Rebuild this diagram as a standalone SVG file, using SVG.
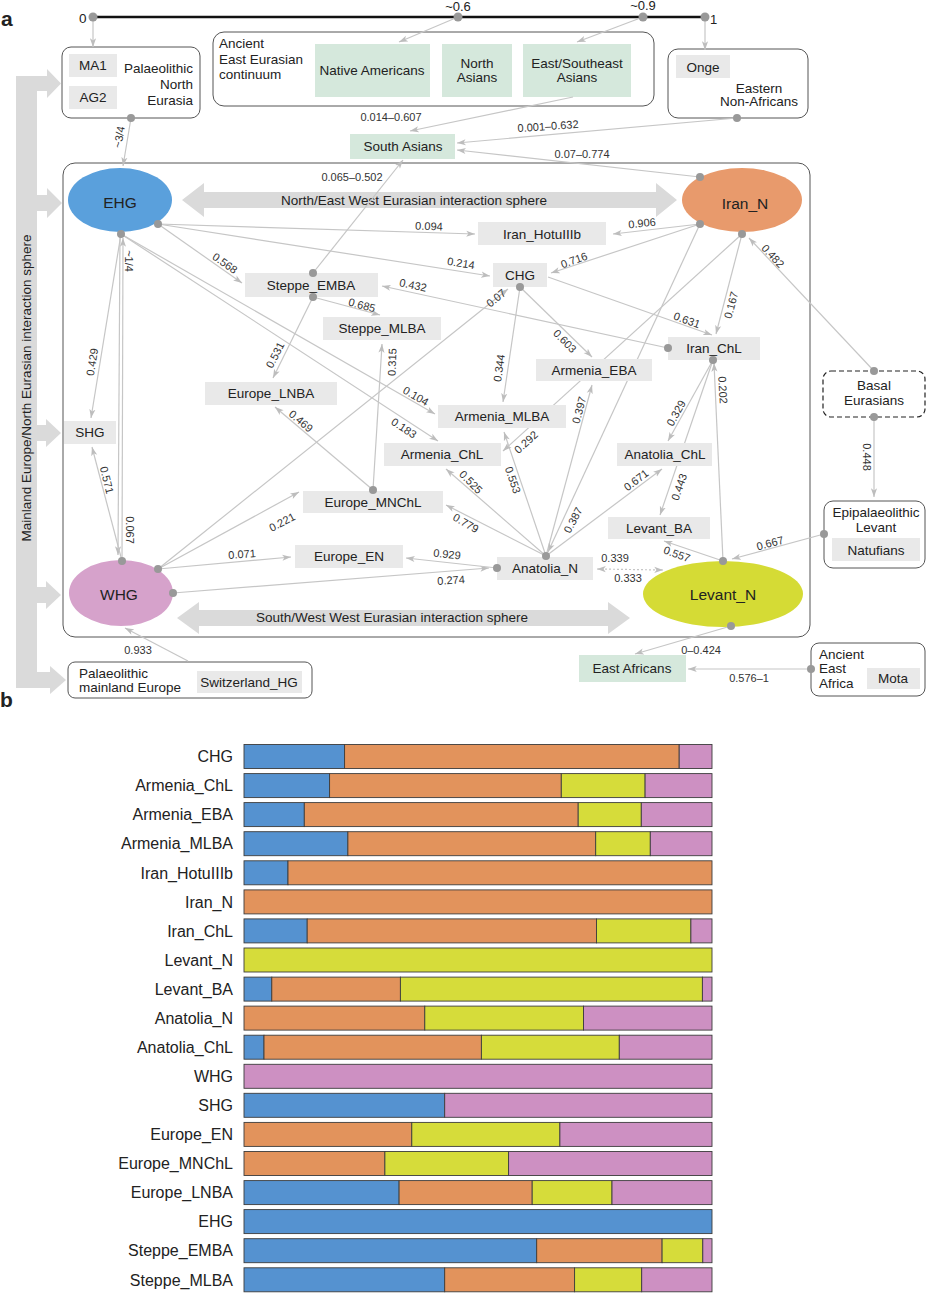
<svg xmlns="http://www.w3.org/2000/svg" width="926" height="1293" viewBox="0 0 926 1293">
<defs>
<marker id="ah" viewBox="0 0 10 8" refX="10" refY="4" markerWidth="9" markerHeight="7" orient="auto-start-reverse" markerUnits="userSpaceOnUse"><path d="M0,0.5 L10,4 L0,7.5 L2.5,4z" fill="#bdbdbd"/></marker>
</defs>
<style>
text{font-family:"Liberation Sans",Arial,sans-serif;fill:#222}
.n{font-size:13.5px;text-anchor:middle}
.s{font-size:13.5px}
.t{font-size:15.5px;text-anchor:middle}
.l{font-size:11px;text-anchor:middle;fill:#333}
.g{fill:#e9e9e9}
.gr{fill:#d5e8dc}
.box{fill:#fff;stroke:#555;stroke-width:1}
.e{stroke:#c6c6c6;stroke-width:1.2;fill:none;marker-end:url(#ah)}
.d{fill:#999}
.ia{fill:#dadada}
.bl{font-size:16px;text-anchor:end}
.cb{fill:#5592d0;stroke:#3c3c3c;stroke-width:0.9}
.co{fill:#e2935c;stroke:#3c3c3c;stroke-width:0.9}
.cy{fill:#d6dc3a;stroke:#3c3c3c;stroke-width:0.9}
.cp{fill:#cd90c2;stroke:#3c3c3c;stroke-width:0.9}
</style>
<rect width="926" height="1293" fill="#fff"/>
<text x="1" y="26" style="font-size:21px;font-weight:bold">a</text>
<text x="0" y="707" style="font-size:21px;font-weight:bold">b</text>

<!-- scale -->
<g id="scale">
<line x1="93" y1="17" x2="705" y2="17" stroke="#111" stroke-width="2.5"/>
<text x="79" y="23" class="s">0</text>
<text x="458" y="11" class="n" style="font-size:13px">~0.6</text>
<text x="643" y="10" class="n" style="font-size:13px">~0.9</text>
<text x="710" y="24" class="s" style="font-size:13px">1</text>
</g>

<!-- big interaction arrows -->
<g id="interaction">
<path class="ia" d="M16,76 H47 V69 L61,83.5 L47,98 V91 H37 V195 H47 V188 L62,203 L47,218 V211 H37 V425 H46 V419 L61,433 L46,447 V441 H37 V587 H46 V581 L61,595 L46,609 V603 H37 V672 H50 V666 L66,680 L50,694 V688 H16 Z"/>
<text class="n" transform="translate(31,388) rotate(-90)">Mainland Europe/North Eurasian interaction sphere</text>
</g>

<!-- groups -->
<g id="group-PNE">
<rect class="box" x="62" y="47" width="138" height="71" rx="9"/>
<rect class="g" x="69" y="54" width="48" height="23"/><text class="n" x="93" y="70">MA1</text>
<rect class="g" x="69" y="86" width="48" height="23"/><text class="n" x="93" y="102">AG2</text>
<text class="s" x="193" y="73" text-anchor="end">Palaeolithic</text>
<text class="s" x="193" y="89" text-anchor="end">North</text>
<text class="s" x="193" y="105" text-anchor="end">Eurasia</text>
</g>
<g id="group-AEE">
<rect class="box" x="213" y="32" width="441" height="74" rx="11"/>
<text class="s" x="219" y="48">Ancient</text>
<text class="s" x="219" y="64">East Eurasian</text>
<text class="s" x="219" y="79">continuum</text>
<rect class="gr" x="315" y="44" width="115" height="53"/><text class="n" x="372" y="75">Native Americans</text>
<rect class="gr" x="442" y="44" width="70" height="53"/><text class="n" x="477" y="68">North</text><text class="n" x="477" y="82">Asians</text>
<rect class="gr" x="523" y="44" width="108" height="53"/><text class="n" x="577" y="68">East/Southeast</text><text class="n" x="577" y="82">Asians</text>
</g>
<g id="group-ENA">
<rect class="box" x="668" y="49" width="140" height="69" rx="10"/>
<rect class="g" x="676" y="55" width="54" height="23"/><text class="n" x="703" y="72">Onge</text>
<text class="n" x="759" y="93">Eastern</text>
<text class="n" x="759" y="106">Non-Africans</text>
</g>
<g id="node-SouthAsians"><rect class="gr" x="350" y="134" width="105" height="25"/><text class="n" x="403" y="151">South Asians</text></g>

<rect id="mainbox" class="box" x="63" y="163" width="747" height="474" rx="12"/>

<g id="spheres">
<polygon class="ia" points="182,200 204,183 204,192 656,192 656,183 677,200 656,217 656,208 204,208 204,217"/>
<text class="n" x="414" y="205">North/East West Eurasian interaction sphere</text>
<polygon class="ia" points="177,618 199,602 199,610 608,610 608,602 630,618 608,634 608,626 199,626 199,634"/>
<text class="n" x="392" y="622">South/West West Eurasian interaction sphere</text>
</g>

<g id="group-PME">
<rect class="box" x="68" y="662" width="244" height="36" rx="7"/>
<text class="s" x="79" y="678">Palaeolithic</text>
<text class="s" x="79" y="692">mainland Europe</text>
<rect class="g" x="197" y="671" width="105" height="22"/><text class="n" x="249" y="687">Switzerland_HG</text>
</g>
<g id="group-Basal">
<rect x="823" y="371" width="102" height="46" rx="8" fill="#fff" stroke="#222" stroke-width="1.2" stroke-dasharray="5,3"/>
<text class="n" x="874" y="390">Basal</text>
<text class="n" x="874" y="405">Eurasians</text>
</g>
<g id="group-Epi">
<rect class="box" x="824" y="501" width="101" height="67" rx="9"/>
<text class="n" x="876" y="517">Epipalaeolithic</text>
<text class="n" x="876" y="532">Levant</text>
<rect class="g" x="832" y="538" width="88" height="23"/><text class="n" x="876" y="555">Natufians</text>
</g>
<g id="group-AEA">
<rect class="box" x="811" y="643" width="114" height="53" rx="8"/>
<text class="s" x="819" y="659">Ancient</text>
<text class="s" x="819" y="673">East</text>
<text class="s" x="819" y="688">Africa</text>
<rect class="g" x="867" y="668" width="53" height="21"/><text class="n" x="893" y="683">Mota</text>
</g>
<g id="node-EastAfricans"><rect class="gr" x="579" y="655" width="107" height="27"/><text class="n" x="632" y="673">East Africans</text></g>

<!-- connectors -->
<g id="connectors">
<line class="e" x1="93" y1="17" x2="93" y2="47"/>
<line class="e" x1="458" y1="17" x2="399" y2="42"/>
<line class="e" x1="643" y1="17" x2="577" y2="42"/>
<line class="e" x1="705" y1="17" x2="705" y2="50"/>
<line class="e" x1="131" y1="118" x2="123" y2="166"/>
<line class="e" x1="573" y1="97" x2="410" y2="131"/>
<line class="e" x1="737" y1="118" x2="457" y2="143"/>
<line class="e" x1="700" y1="177" x2="457" y2="150"/>
<line class="e" x1="313" y1="273" x2="403" y2="160"/>
<line class="e" x1="158" y1="224" x2="475" y2="234"/>
<line class="e" x1="158" y1="224" x2="490" y2="276"/>
<line class="e" x1="158" y1="224" x2="242" y2="283"/>
<line class="e" x1="121" y1="234" x2="91" y2="418"/>
<line class="e" x1="121" y1="234" x2="435" y2="414"/>
<line class="e" x1="121" y1="234" x2="438" y2="441"/>
<line class="e" x1="120" y1="234" x2="118" y2="555"/>
<line class="e" x1="122" y1="561" x2="123" y2="238"/>
<line class="e" x1="122" y1="561" x2="92" y2="447"/>
<line class="e" x1="158" y1="569" x2="291" y2="557"/>
<line class="e" x1="158" y1="569" x2="299" y2="492"/>
<line class="e" x1="158" y1="569" x2="508" y2="289"/>
<line class="e" x1="173" y1="593" x2="489" y2="568"/>
<line class="e" x1="497" y1="568" x2="406" y2="558"/>
<line class="e" x1="546" y1="556" x2="446" y2="505"/>
<line class="e" x1="546" y1="556" x2="446" y2="469"/>
<line class="e" x1="546" y1="556" x2="504" y2="432"/>
<line class="e" x1="546" y1="556" x2="592" y2="385"/>
<line class="e" x1="700" y1="224" x2="548" y2="552"/>
<line class="e" x1="546" y1="556" x2="662" y2="469"/>
<line class="e" x1="700" y1="224" x2="613" y2="234"/>
<line class="e" x1="700" y1="224" x2="551" y2="273"/>
<line class="e" x1="742" y1="234" x2="716" y2="334"/>
<line class="e" x1="742" y1="234" x2="503" y2="451"/>
<line class="e" x1="548" y1="277" x2="712" y2="335"/>
<line class="e" x1="520" y1="287" x2="503" y2="402"/>
<line class="e" x1="520" y1="287" x2="592" y2="357"/>
<line class="e" x1="668" y1="348" x2="382" y2="286"/>
<line class="e" x1="313" y1="297" x2="380" y2="315"/>
<line class="e" x1="313" y1="297" x2="273" y2="378"/>
<line class="e" x1="373" y1="490" x2="382" y2="344"/>
<line class="e" x1="373" y1="490" x2="275" y2="407"/>
<line class="e" x1="713" y1="360" x2="668" y2="441"/>
<line class="e" x1="713" y1="360" x2="660" y2="515"/>
<line class="e" x1="723" y1="561" x2="714" y2="363"/>
<line class="e" x1="723" y1="561" x2="664" y2="541"/>
<line class="e" x1="824" y1="534" x2="732" y2="559"/>
<line class="e" x1="597" y1="569" x2="663" y2="570" stroke-dasharray="2,2" style="marker-start:url(#ah)"/>
<line class="e" x1="731" y1="626" x2="635" y2="654"/>
<line class="e" x1="811" y1="669" x2="688" y2="669"/>
<line class="e" x1="188" y1="661" x2="125" y2="628"/>
<line class="e" x1="874" y1="371" x2="749" y2="238"/>
<line class="e" x1="874" y1="417" x2="874" y2="497"/>
</g>

<!-- ellipse nodes -->
<g id="node-EHG"><ellipse cx="120" cy="200" rx="52" ry="32" fill="#5aa0dc"/><text class="t" x="120" y="208">EHG</text></g>
<g id="node-IranN"><ellipse cx="742" cy="200" rx="60" ry="32" fill="#e89a6c"/><text class="t" x="745" y="209">Iran_N</text></g>
<g id="node-WHG"><ellipse cx="121" cy="593" rx="52" ry="33" fill="#d6a2cb"/><text class="t" x="119" y="600">WHG</text></g>
<g id="node-LevantN"><ellipse cx="723" cy="594" rx="80" ry="33" fill="#d5db35"/><text class="t" x="723" y="600">Levant_N</text></g>

<!-- box nodes -->
<g id="node-IranHotuIIIb"><rect class="g" x="478" y="222" width="128" height="23"/><text class="n" x="542" y="238.5">Iran_HotuIIIb</text></g>
<g id="node-CHG"><rect class="g" x="493" y="263" width="54" height="24"/><text class="n" x="520" y="280">CHG</text></g>
<g id="node-SteppeEMBA"><rect class="g" x="245" y="273" width="133" height="24"/><text class="n" x="311" y="290">Steppe_EMBA</text></g>
<g id="node-SteppeMLBA"><rect class="g" x="323" y="317" width="118" height="23"/><text class="n" x="382" y="333">Steppe_MLBA</text></g>
<g id="node-IranChL"><rect class="g" x="668" y="337" width="92" height="23"/><text class="n" x="714" y="353">Iran_ChL</text></g>
<g id="node-ArmeniaEBA"><rect class="g" x="536" y="359" width="116" height="22"/><text class="n" x="594" y="375">Armenia_EBA</text></g>
<g id="node-EuropeLNBA"><rect class="g" x="205" y="382" width="132" height="23"/><text class="n" x="271" y="398">Europe_LNBA</text></g>
<g id="node-ArmeniaMLBA"><rect class="g" x="438" y="405" width="128" height="23"/><text class="n" x="502" y="421">Armenia_MLBA</text></g>
<g id="node-ArmeniaChL"><rect class="g" x="384" y="443" width="117" height="23"/><text class="n" x="442" y="459">Armenia_ChL</text></g>
<g id="node-AnatoliaChL"><rect class="g" x="617" y="443" width="95" height="23"/><text class="n" x="665" y="459">Anatolia_ChL</text></g>
<g id="node-SHG"><rect class="g" x="64" y="421" width="52" height="23"/><text class="n" x="90" y="437">SHG</text></g>
<g id="node-EuropeMNChL"><rect class="g" x="303" y="491" width="140" height="22"/><text class="n" x="373" y="507">Europe_MNChL</text></g>
<g id="node-LevantBA"><rect class="g" x="608" y="517" width="102" height="22"/><text class="n" x="659" y="533">Levant_BA</text></g>
<g id="node-EuropeEN"><rect class="g" x="295" y="545" width="108" height="23"/><text class="n" x="349" y="561">Europe_EN</text></g>
<g id="node-AnatoliaN"><rect class="g" x="497" y="557" width="96" height="23"/><text class="n" x="545" y="573">Anatolia_N</text></g>

<!-- dots -->
<g id="dots" class="d">
<circle cx="93" cy="17" r="4.5"/><circle cx="458" cy="17" r="4.5"/><circle cx="643" cy="17" r="4.5"/><circle cx="705" cy="17" r="4.5"/>
<circle cx="131" cy="118" r="4"/><circle cx="737" cy="118" r="4"/><circle cx="700" cy="177" r="4"/>
<circle cx="158" cy="224" r="4"/><circle cx="121" cy="234" r="4"/><circle cx="700" cy="224" r="4"/><circle cx="742" cy="234" r="4"/>
<circle cx="313" cy="273" r="4"/><circle cx="313" cy="297" r="4"/><circle cx="520" cy="287" r="4"/>
<circle cx="668" cy="348" r="4"/><circle cx="713" cy="360" r="4"/><circle cx="373" cy="490" r="4"/>
<circle cx="546" cy="556" r="4"/><circle cx="497" cy="568" r="4"/>
<circle cx="122" cy="561" r="4"/><circle cx="158" cy="569" r="4"/><circle cx="173" cy="593" r="4"/>
<circle cx="723" cy="561" r="4"/><circle cx="731" cy="626" r="4"/>
<circle cx="874" cy="371" r="4"/><circle cx="874" cy="417" r="4"/><circle cx="824" cy="534" r="4"/><circle cx="811" cy="669" r="4"/>
</g>

<!-- edge labels -->
<g id="edge-labels">
<text class="l" transform="translate(119,137) rotate(-80)" y="4">~3/4</text>
<text class="l" transform="translate(391,117)" y="4">0.014–0.607</text>
<text class="l" transform="translate(548,126) rotate(-4)" y="4">0.001–0.632</text>
<text class="l" transform="translate(582,154)" y="4">0.07–0.774</text>
<text class="l" transform="translate(352,177)" y="4">0.065–0.502</text>
<text class="l" transform="translate(429,226) rotate(2)" y="4">0.094</text>
<text class="l" transform="translate(461,263) rotate(9)" y="4">0.214</text>
<text class="l" transform="translate(225,263) rotate(35)" y="4">0.568</text>
<text class="l" transform="translate(92,362) rotate(-81)" y="4">0.429</text>
<text class="l" transform="translate(416,396) rotate(30)" y="4">0.104</text>
<text class="l" transform="translate(404,428) rotate(33)" y="4">0.183</text>
<text class="l" transform="translate(130,530) rotate(90)" y="4">0.067</text>
<text class="l" transform="translate(129,261) rotate(90)" y="4">~1/4</text>
<text class="l" transform="translate(107,480) rotate(76)" y="4">0.571</text>
<text class="l" transform="translate(242,554) rotate(-4)" y="4">0.071</text>
<text class="l" transform="translate(282,522) rotate(-28)" y="4">0.221</text>
<text class="l" transform="translate(496,298) rotate(-39)" y="4">0.07</text>
<text class="l" transform="translate(451,580) rotate(-4)" y="4">0.274</text>
<text class="l" transform="translate(447,554) rotate(6)" y="4">0.929</text>
<text class="l" transform="translate(466,523) rotate(30)" y="4">0.779</text>
<text class="l" transform="translate(471,482) rotate(45)" y="4">0.525</text>
<text class="l" transform="translate(513,480) rotate(71)" y="4">0.553</text>
<text class="l" transform="translate(579,410) rotate(-75)" y="4">0.397</text>
<text class="l" transform="translate(573,520) rotate(-62)" y="4">0.387</text>
<text class="l" transform="translate(636,480) rotate(-37)" y="4">0.671</text>
<text class="l" transform="translate(642,223) rotate(-6)" y="4">0.906</text>
<text class="l" transform="translate(574,260) rotate(-20)" y="4">0.716</text>
<text class="l" transform="translate(731,305) rotate(-75)" y="4">0.167</text>
<text class="l" transform="translate(526,442) rotate(-42)" y="4">0.292</text>
<text class="l" transform="translate(687,320) rotate(20)" y="4">0.631</text>
<text class="l" transform="translate(499,368) rotate(-82)" y="4">0.344</text>
<text class="l" transform="translate(565,341) rotate(45)" y="4">0.603</text>
<text class="l" transform="translate(413,285) rotate(12)" y="4">0.432</text>
<text class="l" transform="translate(362,305) rotate(15)" y="4">0.685</text>
<text class="l" transform="translate(275,355) rotate(-63)" y="4">0.531</text>
<text class="l" transform="translate(392,362) rotate(-88)" y="4">0.315</text>
<text class="l" transform="translate(301,421) rotate(40)" y="4">0.469</text>
<text class="l" transform="translate(676,413) rotate(-61)" y="4">0.329</text>
<text class="l" transform="translate(679,487) rotate(-71)" y="4">0.443</text>
<text class="l" transform="translate(723,390) rotate(87)" y="4">0.202</text>
<text class="l" transform="translate(677,554) rotate(20)" y="4">0.557</text>
<text class="l" transform="translate(770,543) rotate(-15)" y="4">0.667</text>
<text class="l" transform="translate(615,558)" y="4">0.339</text>
<text class="l" transform="translate(628,578)" y="4">0.333</text>
<text class="l" transform="translate(701,650)" y="4">0–0.424</text>
<text class="l" transform="translate(749,678)" y="4">0.576–1</text>
<text class="l" transform="translate(138,650)" y="4">0.933</text>
<text class="l" transform="translate(773,256) rotate(47)" y="4">0.482</text>
<text class="l" transform="translate(867,457) rotate(90)" y="4">0.448</text>
</g>

<!-- part b -->
<g id="chart">
<g id="bar-CHG"><text class="bl" x="233" y="762.2">CHG</text><rect class="cb" x="244" y="744.5" width="100.6" height="24"/><rect class="co" x="344.6" y="744.5" width="334.6" height="24"/><rect class="cp" x="679.2" y="744.5" width="32.8" height="24"/></g>
<g id="bar-ArmeniaChL"><text class="bl" x="233" y="791.3">Armenia_ChL</text><rect class="cb" x="244" y="773.6" width="85.6" height="24"/><rect class="co" x="329.6" y="773.6" width="231.7" height="24"/><rect class="cy" x="561.3" y="773.6" width="83.8" height="24"/><rect class="cp" x="645.1" y="773.6" width="66.9" height="24"/></g>
<g id="bar-ArmeniaEBA"><text class="bl" x="233" y="820.3">Armenia_EBA</text><rect class="cb" x="244" y="802.6" width="60.3" height="24"/><rect class="co" x="304.3" y="802.6" width="273.9" height="24"/><rect class="cy" x="578.2" y="802.6" width="63.1" height="24"/><rect class="cp" x="641.3" y="802.6" width="70.7" height="24"/></g>
<g id="bar-ArmeniaMLBA"><text class="bl" x="233" y="849.4">Armenia_MLBA</text><rect class="cb" x="244" y="831.7" width="103.9" height="24"/><rect class="co" x="347.9" y="831.7" width="247.8" height="24"/><rect class="cy" x="595.7" y="831.7" width="54.6" height="24"/><rect class="cp" x="650.3" y="831.7" width="61.7" height="24"/></g>
<g id="bar-IranHotuIIIb"><text class="bl" x="233" y="878.5">Iran_HotuIIIb</text><rect class="cb" x="244" y="860.8" width="44" height="24"/><rect class="co" x="288" y="860.8" width="424" height="24"/></g>
<g id="bar-IranN"><text class="bl" x="233" y="907.6">Iran_N</text><rect class="co" x="244" y="889.9" width="468" height="24"/></g>
<g id="bar-IranChL"><text class="bl" x="233" y="936.6">Iran_ChL</text><rect class="cb" x="244" y="918.9" width="63.2" height="24"/><rect class="co" x="307.2" y="918.9" width="289.3" height="24"/><rect class="cy" x="596.5" y="918.9" width="94.4" height="24"/><rect class="cp" x="690.9" y="918.9" width="21.1" height="24"/></g>
<g id="bar-LevantN"><text class="bl" x="233" y="965.7">Levant_N</text><rect class="cy" x="244" y="948" width="468" height="24"/></g>
<g id="bar-LevantBA"><text class="bl" x="233" y="994.8">Levant_BA</text><rect class="cb" x="244" y="977.1" width="27.8" height="24"/><rect class="co" x="271.8" y="977.1" width="128.6" height="24"/><rect class="cy" x="400.4" y="977.1" width="302" height="24"/><rect class="cp" x="702.4" y="977.1" width="9.6" height="24"/></g>
<g id="bar-AnatoliaN"><text class="bl" x="233" y="1023.8">Anatolia_N</text><rect class="co" x="244" y="1006.1" width="180.8" height="24"/><rect class="cy" x="424.8" y="1006.1" width="158.7" height="24"/><rect class="cp" x="583.5" y="1006.1" width="128.5" height="24"/></g>
<g id="bar-AnatoliaChL"><text class="bl" x="233" y="1052.9">Anatolia_ChL</text><rect class="cb" x="244" y="1035.2" width="20" height="24"/><rect class="co" x="264" y="1035.2" width="217.4" height="24"/><rect class="cy" x="481.4" y="1035.2" width="137.9" height="24"/><rect class="cp" x="619.3" y="1035.2" width="92.7" height="24"/></g>
<g id="bar-WHG"><text class="bl" x="233" y="1082">WHG</text><rect class="cp" x="244" y="1064.3" width="468" height="24"/></g>
<g id="bar-SHG"><text class="bl" x="233" y="1111">SHG</text><rect class="cb" x="244" y="1093.3" width="200.7" height="24"/><rect class="cp" x="444.7" y="1093.3" width="267.3" height="24"/></g>
<g id="bar-EuropeEN"><text class="bl" x="233" y="1140.1">Europe_EN</text><rect class="co" x="244" y="1122.4" width="167.8" height="24"/><rect class="cy" x="411.8" y="1122.4" width="148.1" height="24"/><rect class="cp" x="559.9" y="1122.4" width="152.1" height="24"/></g>
<g id="bar-EuropeMNChL"><text class="bl" x="233" y="1169.2">Europe_MNChL</text><rect class="co" x="244" y="1151.5" width="140.9" height="24"/><rect class="cy" x="384.9" y="1151.5" width="123.7" height="24"/><rect class="cp" x="508.6" y="1151.5" width="203.4" height="24"/></g>
<g id="bar-EuropeLNBA"><text class="bl" x="233" y="1198.3">Europe_LNBA</text><rect class="cb" x="244" y="1180.6" width="155.1" height="24"/><rect class="co" x="399.1" y="1180.6" width="133.1" height="24"/><rect class="cy" x="532.2" y="1180.6" width="79.8" height="24"/><rect class="cp" x="612" y="1180.6" width="100" height="24"/></g>
<g id="bar-EHG"><text class="bl" x="233" y="1227.3">EHG</text><rect class="cb" x="244" y="1209.6" width="468" height="24"/></g>
<g id="bar-SteppeEMBA"><text class="bl" x="233" y="1256.4">Steppe_EMBA</text><rect class="cb" x="244" y="1238.7" width="292.7" height="24"/><rect class="co" x="536.7" y="1238.7" width="125.4" height="24"/><rect class="cy" x="662.1" y="1238.7" width="40.7" height="24"/><rect class="cp" x="702.8" y="1238.7" width="9.2" height="24"/></g>
<g id="bar-SteppeMLBA"><text class="bl" x="233" y="1285.5">Steppe_MLBA</text><rect class="cb" x="244" y="1267.8" width="200.7" height="24"/><rect class="co" x="444.7" y="1267.8" width="129.9" height="24"/><rect class="cy" x="574.6" y="1267.8" width="67.1" height="24"/><rect class="cp" x="641.7" y="1267.8" width="70.3" height="24"/></g>
</g>
</svg>
